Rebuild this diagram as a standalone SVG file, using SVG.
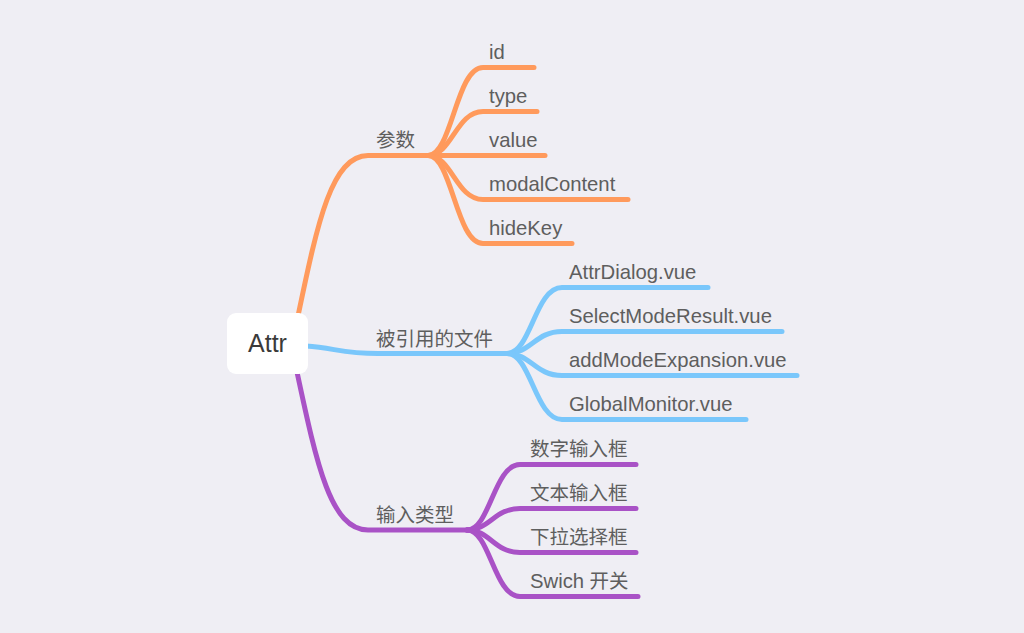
<svg xmlns="http://www.w3.org/2000/svg" width="1024" height="633" viewBox="0 0 1024 633">
<style>
.bg{fill:#efeef4}
.ln{fill:none;stroke-width:5;stroke-linecap:round;stroke-linejoin:round}
.o{stroke:#ff9a5c}
.b{stroke:#7ac7fb}
.p{stroke:#a952c6}
.t{font-family:"Liberation Sans","Noto Sans CJK SC",sans-serif;font-size:19.5px;fill:#5e5e5e}
.l{font-size:20.3px}
.root{font-family:"Liberation Sans",sans-serif;font-size:25px;fill:#3a3a3a}
</style>
<rect class="bg" x="0" y="0" width="1024" height="633"/>
<g id="connectors">
  <path class="ln o" d="M298 316 C318 220 332 155.5 368 155.5 L428 155.5"/>
  <path class="ln o" d="M428 155.5 C452 155.5 456 67.5 483 67.5 L534 67.5"/>
  <path class="ln o" d="M428 155.5 C452 155.5 456 111.5 483 111.5 L537 111.5"/>
  <path class="ln o" d="M428 155.5 L545 155.5"/>
  <path class="ln o" d="M428 155.5 C452 155.5 456 199.5 483 199.5 L628 199.5"/>
  <path class="ln o" d="M428 155.5 C452 155.5 456 243.5 483 243.5 L572 243.5"/>
  <path class="ln b" d="M306 346 C335 348 342 353.5 378 353.5 L507 353.5"/>
  <path class="ln b" d="M507 353.5 C531 353.5 535 287.5 562 287.5 L708 287.5"/>
  <path class="ln b" d="M507 353.5 C531 353.5 535 331.5 562 331.5 L782 331.5"/>
  <path class="ln b" d="M507 353.5 C531 353.5 535 375.5 562 375.5 L797 375.5"/>
  <path class="ln b" d="M507 353.5 C531 353.5 535 419.5 562 419.5 L746 419.5"/>
  <path class="ln p" d="M297 372 C317 466 331 530 368 530 L467 530"/>
  <path class="ln p" d="M467 530 C490 530 494 464.5 520 464.5 L636 464.5"/>
  <path class="ln p" d="M467 530 C490 530 494 508.5 520 508.5 L636 508.5"/>
  <path class="ln p" d="M467 530 C490 530 494 552.5 520 552.5 L636 552.5"/>
  <path class="ln p" d="M467 530 C490 530 494 596.5 520 596.5 L638 596.5"/>
</g>
<g id="root">
  <rect x="227" y="313" width="81" height="61" rx="9" fill="#ffffff"/>
  <text class="root" x="267.5" y="352" text-anchor="middle">Attr</text>
</g>
<g id="canshu"><text class="t" x="376" y="147">参数</text></g>
<g id="id"><text class="t l" x="489" y="58.5">id</text></g>
<g id="type"><text class="t l" x="489" y="102.5">type</text></g>
<g id="value"><text class="t l" x="489" y="146.5">value</text></g>
<g id="modalContent"><text class="t l" x="489" y="190.5">modalContent</text></g>
<g id="hideKey"><text class="t l" x="489" y="234.5">hideKey</text></g>
<g id="files"><text class="t" x="376" y="346">被引用的文件</text></g>
<g id="attrDialog"><text class="t l" x="569" y="278.5">AttrDialog.vue</text></g>
<g id="selectModeResult"><text class="t l" x="569" y="322.5">SelectModeResult.vue</text></g>
<g id="addModeExpansion"><text class="t l" x="569" y="366.5">addModeExpansion.vue</text></g>
<g id="globalMonitor"><text class="t l" x="569" y="410.5">GlobalMonitor.vue</text></g>
<g id="inputType"><text class="t" x="376" y="522">输入类型</text></g>
<g id="numInput"><text class="t" x="530" y="456">数字输入框</text></g>
<g id="textInput"><text class="t" x="530" y="500">文本输入框</text></g>
<g id="select"><text class="t" x="530" y="544">下拉选择框</text></g>
<g id="switch"><text class="t" x="530" y="588"><tspan class="l">Swich</tspan> 开关</text></g>
</svg>
